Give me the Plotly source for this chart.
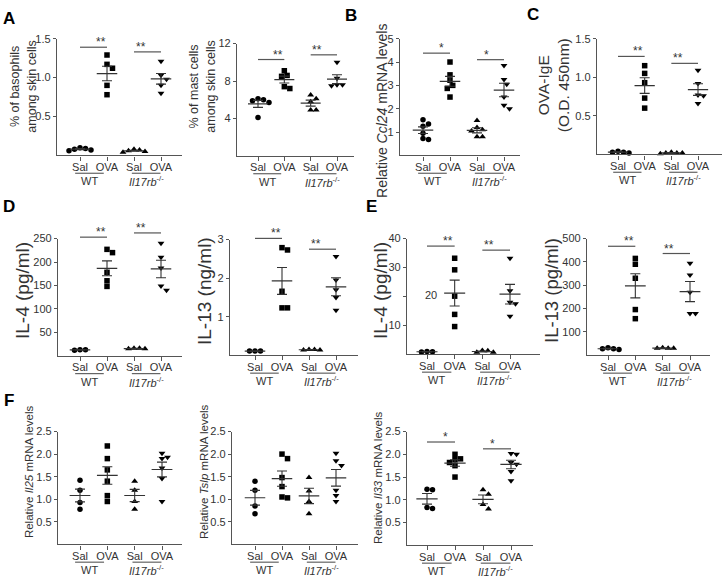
import numpy as np
import plotly.graph_objects as go

W, H = 722, 578
FONT = "Arial, 'Liberation Sans', Helvetica, sans-serif"
INK = "#333333"

categories = ["Sal", "OVA", "Sal", "OVA"]
genotypes = ["WT", "<i>Il17rb</i><sup>-/-</sup>"]
symbols = ["circle", "square", "triangle-up", "triangle-down"]

# values per group: Sal-WT, OVA-WT, Sal-Il17rb-/-, OVA-Il17rb-/-
basophils = [[0.10, 0.08, 0.06, 0.07, 0.09], [1.29, 1.17, 1.12, 0.90, 0.78],
             [0.08, 0.07, 0.06, 0.04, 0.05], [1.21, 1.03, 0.98, 0.90, 0.80]]
mast_cells = [[6.1, 5.7, 5.9, 6.0, 4.1], [9.1, 8.6, 8.5, 7.4, 7.2],
              [6.5, 6.1, 5.8, 4.9, 4.9], [10.0, 8.3, 7.6, 7.5, 7.6]]
ccl24 = [[1.53, 1.35, 1.25, 0.95, 0.72, 0.68], [4.0, 3.45, 3.22, 3.0, 2.87, 2.5],
         [1.5, 1.2, 1.1, 1.05, 0.8, 0.8], [3.85, 3.25, 3.05, 2.5, 2.15, 2.0]]
ova_ige = [[0.04, 0.03, 0.02, 0.03], [1.15, 1.05, 0.93, 0.73, 0.60],
           [0.02, 0.02, 0.01, 0.03, 0.02], [1.09, 0.92, 0.77, 0.76, 0.66]]
il4_serum = [[13, 12, 13], [227, 220, 178, 160, 148],
             [16, 15, 16, 15], [240, 210, 187, 149, 140]]
il13_serum = [[0.11, 0.11, 0.11], [2.79, 2.73, 1.66, 1.23, 1.23],
              [0.15, 0.14, 0.15, 0.14], [2.56, 1.95, 1.7, 1.5, 1.17]]
il4_skin = [[1.0, 0.8, 0.9], [33.2, 29.2, 20.1, 13.8, 9.6],
            [1.3, 1.2, 0.7, 0.7], [33.2, 22.0, 18.0, 17.5, 13.2]]
il13_skin = [[32, 28, 25, 28], [415, 390, 330, 196, 157],
             [30, 30, 32, 30], [394, 344, 270, 179, 179]]
il25 = [[1.42, 1.2, 0.93, 0.78], [2.18, 1.9, 1.65, 1.4, 1.08, 0.95],
        [1.40, 1.2, 0.95, 0.78], [2.02, 1.93, 1.9, 1.69, 1.46, 0.95]]
tslp = [[1.40, 1.20, 0.85, 0.68], [2.0, 1.9, 1.48, 1.28, 1.05, 1.03],
        [1.48, 1.18, 0.95, 0.68], [2.02, 1.85, 1.75, 1.2, 1.08, 0.95]]
il33 = [[1.23, 1.22, 0.83, 0.81], [2.0, 1.9, 1.88, 1.82, 1.75, 1.5],
        [1.22, 1.12, 0.9, 0.8], [2.02, 2.0, 1.82, 1.78, 1.62, 1.42]]

# significance bar heights (WT, Il17rb-/-) and labels
basophils_sig, basophils_star = [1.39, 1.33], "**"
mast_sig, mast_star = [10.3, 10.8], "**"
ccl24_sig, ccl24_star = [4.38, 4.1], "*"
ova_ige_sig, ova_ige_star = [1.27, 1.18], "**"
il4_serum_sig, il4_serum_star = [253, 262], "**"
il13_serum_sig, il13_serum_star = [3.03, 2.75], "**"
il4_skin_sig, il4_skin_star = [37.4, 36], "**"
il13_skin_sig, il13_skin_star = [467, 436], "**"
il33_sig, il33_star = [2.27, 2.12], "*"

# y-axis ticks
basophils_ticks = [0.5, 1.0, 1.5]
mast_ticks = [4, 8, 12]
ccl24_ticks = [1, 2, 3, 4, 5]
ova_ige_ticks = [0.5, 1.0, 1.5]
il4_serum_ticks = [50, 100, 150, 200, 250]
il13_serum_ticks = [1, 2, 3]
il4_skin_ticks = [10, 20, 30, 40]
il13_skin_ticks = [100, 200, 300, 400, 500]
mrna_ticks = [0.5, 1.0, 1.5, 2.0, 2.5]

# panel list: data, sig, star, ticks, tick format, ymax, geometry (px), title, title size, title pos
panels = [
    (basophils, basophils_sig, basophils_star, basophils_ticks, "{:.1f}", 1.5,
     (57, 182, 80, 161, 151, 33), "% of basophils<br>among skin cells", 12.5, (23.5, 82)),
    (mast_cells, mast_sig, mast_star, mast_ticks, "{:d}", 12,
     (237, 354, 258, 337, 151.5, 38), "% of mast cells<br>among skin cells", 12.5, (202.5, 82)),
    (ccl24, ccl24_sig, ccl24_star, ccl24_ticks, "{:d}", 5,
     (400, 520, 423, 504, 151, 33), "Relative <i>Ccl24</i> mRNA levels", 14, (382, 106)),
    (ova_ige, ova_ige_sig, ova_ige_star, ova_ige_ticks, "{:.1f}", 1.5,
     (597, 722, 618, 698, 150, 33), "OVA-IgE<br>(O.D. 450nm)", 15.5, (553, 80)),
    (il4_serum, il4_serum_sig, il4_serum_star, il4_serum_ticks, "{:d}", 250,
     (58, 182, 80, 161, 353.5, 235), "IL-4 (pg/ml)", 19, (22, 288)),
    (il13_serum, il13_serum_sig, il13_serum_star, il13_serum_ticks, "{:d}", 3,
     (230, 358, 255, 336, 353, 236), "IL-13 (ng/ml)", 19, (204, 288)),
    (il4_skin, il4_skin_sig, il4_skin_star, il4_skin_ticks, "{:d}", 40,
     (407, 540, 427, 510, 352, 235), "IL-4 (pg/ml)", 19, (380, 288)),
    (il13_skin, il13_skin_sig, il13_skin_star, il13_skin_ticks, "{:d}", 500,
     (587, 710, 608, 690, 353, 235), "IL-13 (pg/ml)", 18.5, (551, 288)),
    (il25, None, None, mrna_ticks, "{:.1f}", 2.5,
     (58, 182, 80, 162, 544, 430), "Relative <i>Il25</i> mRNA levels", 11.5, (29, 471)),
    (tslp, None, None, mrna_ticks, "{:.1f}", 2.5,
     (232, 358, 255, 336, 544, 430), "Relative <i>Tslp</i> mRNA levels", 11.5, (204, 471)),
    (il33, il33_sig, il33_star, mrna_ticks, "{:.1f}", 2.5,
     (407, 533, 427, 511, 545, 430), "Relative <i>Il33</i> mRNA levels", 11.5, (378, 477)),
]

panel_letters = [("A", 9, 13), ("B", 351, 10), ("C", 533, 9),
                 ("D", 9, 203), ("E", 371, 203), ("F", 9, 399)]
group_shift = [-0.15, -0.05]


def swarm(vals, ppu_y, ppc, d=5.5):
    order = sorted(range(len(vals)), key=lambda i: -vals[i])
    placed, res = [], [0.0] * len(vals)
    for i in order:
        y = vals[i] * ppu_y
        x = 0.0
        for k in [0, 1, -1, 2, -2, 3, -3, 4, -4, 5, -5]:
            x = k * d * 0.5
            if all((x - px) ** 2 + (y - py) ** 2 >= d * d * 0.95 for px, py in placed):
                break
        placed.append((x, y))
        res[i] = x / ppc
    return res


fig = go.Figure()
layout = dict(annotations=[], shapes=[])
cat_x = [1, 2, 3, 4]

for n, (data, sig, star, ticks, fmt, ymax, geo, title, tsize, tpos) in enumerate(panels, start=1):
    xl, xr, c1, c4, yb, yt = geo
    ppc = (c4 - c1) / 3.0
    ppu = (yb - yt) / ymax
    x0 = 1 - (c1 - xl) / ppc
    x1 = 4 + (xr - c4) / ppc
    xa = "x" if n == 1 else f"x{n}"
    ya = "y" if n == 1 else f"y{n}"
    xkey = "xaxis" if n == 1 else f"xaxis{n}"
    ykey = "yaxis" if n == 1 else f"yaxis{n}"

    def xdom(v):
        return (v - x0) / (x1 - x0)

    def ydom(v):
        return v / ymax

    ticktext = [fmt.format(t) for t in ticks]
    if data is il4_skin:
        ticktext = [t if t != "20" else " " for t in ticktext]

    layout[xkey] = dict(domain=[xl / W, xr / W], range=[x0, x1], anchor=ya,
                        tickvals=cat_x, ticktext=categories, showline=True,
                        linecolor="#555", linewidth=1.3, ticks="outside", ticklen=4,
                        ticklabelstandoff=-3,
                        tickcolor="#555", showgrid=False, zeroline=False,
                        tickfont=dict(size=11, color=INK, family=FONT), fixedrange=True)
    layout[ykey] = dict(domain=[1 - yb / H, 1 - yt / H], range=[0, ymax], anchor=xa,
                        tickvals=ticks, ticktext=ticktext, showline=True,
                        linecolor="#555", linewidth=1.3, ticks="outside", ticklen=3,
                        tickcolor="#555", showgrid=False, zeroline=False,
                        tickfont=dict(size=11, color=INK, family=FONT), fixedrange=True)

    means = [float(np.mean(g)) for g in data]
    sems = [float(np.std(g, ddof=1) / np.sqrt(len(g))) for g in data]

    # points
    for gi, g in enumerate(data):
        offs = swarm(g, ppu, ppc)
        fig.add_trace(go.Scatter(x=[cat_x[gi] + o for o in offs], y=g, mode="markers",
                                 marker=dict(symbol=symbols[gi], size=5.5 if gi < 2 else 6,
                                             color="black", line=dict(width=0)),
                                 xaxis=xa, yaxis=ya, showlegend=False, hoverinfo="y",
                                 cliponaxis=False))
    # mean lines
    mx, my = [], []
    for gi, m in enumerate(means):
        mx += [cat_x[gi] - 0.38, cat_x[gi] + 0.38, None]
        my += [m, m, None]
    fig.add_trace(go.Scatter(x=mx, y=my, mode="lines", line=dict(color=INK, width=1.2),
                             xaxis=xa, yaxis=ya, showlegend=False, hoverinfo="skip"))
    # SEM
    fig.add_trace(go.Scatter(x=cat_x, y=means, mode="markers", marker=dict(size=1, opacity=0),
                             error_y=dict(type="data", array=sems, width=5, thickness=1.1, color=INK),
                             xaxis=xa, yaxis=ya, showlegend=False, hoverinfo="skip"))

    # significance (domain-referenced so bars above the top tick are not clipped)
    if sig is not None:
        for k, s in enumerate(sig):
            layout["shapes"].append(dict(type="line", xref=f"{xa} domain", yref=f"{ya} domain",
                                         x0=xdom(1 + 2 * k), x1=xdom(2 + 2 * k),
                                         y0=ydom(s), y1=ydom(s), line=dict(color="#555", width=1.2)))
            layout["annotations"].append(dict(x=xdom(1.5 + 2 * k), y=ydom(s), xref=f"{xa} domain",
                                              yref=f"{ya} domain", text=star,
                                              showarrow=False, yanchor="middle", yshift=5,
                                              font=dict(size=12, color=INK, family=FONT)))

    # genotype group labels
    for k, gname in enumerate(genotypes):
        cx = 1.5 + 2 * k + group_shift[k]
        layout["shapes"].append(dict(type="line", xref=xa, yref="paper", x0=cx - 0.53, x1=cx + 0.53,
                                     y0=1 - (yb + 18) / H, y1=1 - (yb + 18) / H,
                                     line=dict(color="#555", width=1.1)))
        layout["annotations"].append(dict(x=cx, y=1 - (yb + 26) / H, xref=xa, yref="paper",
                                          text=gname, showarrow=False, yanchor="middle",
                                          font=dict(size=11, color=INK, family=FONT)))

    # axis title
    layout["annotations"].append(dict(x=tpos[0] / W, y=1 - tpos[1] / H, xref="paper", yref="paper",
                                      text=title, textangle=-90, showarrow=False,
                                      xanchor="center", yanchor="middle",
                                      font=dict(size=tsize, color=INK, family=FONT)))

    if data is il4_skin:
        layout["annotations"].append(dict(x=431 / W, y=20.5, xref="paper", yref=ya, text="20",
                                          showarrow=False, font=dict(size=11, color=INK, family=FONT)))

for letter, lx, ly in panel_letters:
    layout["annotations"].append(dict(x=lx / W, y=1 - ly / H, xref="paper", yref="paper",
                                      text=f"<b>{letter}</b>", showarrow=False,
                                      xanchor="center", yanchor="middle",
                                      font=dict(size=17, color="black", family=FONT)))

fig.update_layout(width=W, height=H, margin=dict(l=0, r=0, t=0, b=0),
                  paper_bgcolor="white", plot_bgcolor="white", showlegend=False,
                  font=dict(family=FONT, color=INK), **layout)

fig.write_html("out.html", config={"displayModeBar": False},
               post_script="document.body.style.margin='0';document.body.style.overflow='hidden';")
